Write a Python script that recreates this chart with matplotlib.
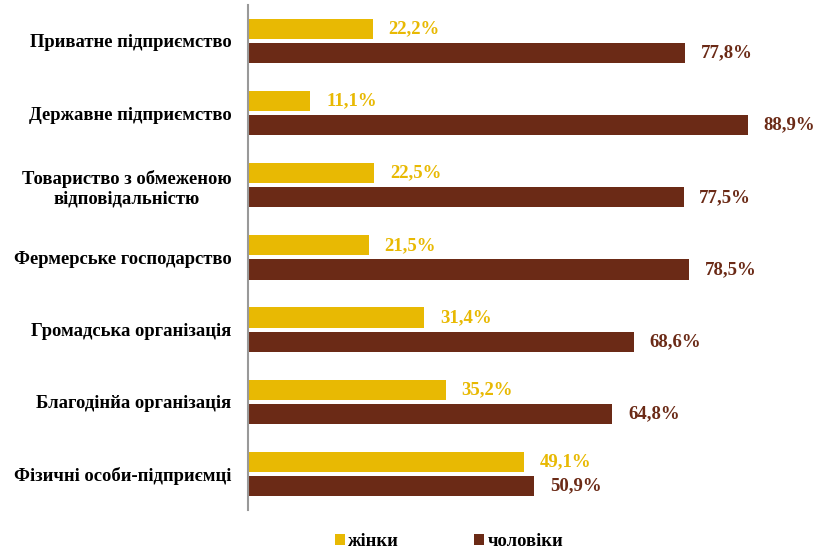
import matplotlib.pyplot as plt
import numpy as np

plt.rcParams['font.family'] = ['Liberation Serif', 'DejaVu Serif']
plt.rcParams['font.weight'] = 'bold'

categories = ["Приватне підприємство",
              "Державне підприємство",
              "Товариство з обмеженою\nвідповідальністю",
              "Фермерське господарство",
              "Громадська організація",
              "Благодінйа організація",
              "Фізичні особи-підприємці"]
women = [22.2, 11.1, 22.5, 21.5, 31.4, 35.2, 49.1]
men = [77.8, 88.9, 77.5, 78.5, 68.6, 64.8, 50.9]

gold = "#E8B903"
brown = "#6B2A16"

fig = plt.figure(figsize=(8.24, 5.51), dpi=100)
ax = fig.add_axes([0.301, 0.0744, 0.682, 0.917])

y = np.arange(len(categories))
h = 0.28
off = 0.168

ax.barh(y - off, women, height=h, color=gold, label="жінки")
ax.barh(y + off, men, height=h, color=brown, label="чоловіки")

for yi, v in zip(y, women):
    ax.text(v + 2.8, yi - off, f"{v:.1f}%".replace(".", ","),
            va="center", ha="left", color=gold, fontsize=13.5, fontweight="bold")
for yi, v in zip(y, men):
    ax.text(v + 2.8, yi + off, f"{v:.1f}%".replace(".", ","),
            va="center", ha="left", color=brown, fontsize=13.5, fontweight="bold")

ax.set_xlim(0, 100)
ax.set_ylim(len(categories) - 0.5, -0.5)
ax.set_yticks(y)
ax.set_yticklabels(categories, fontsize=13.4, fontweight="bold", multialignment="center")
ax.tick_params(axis="y", length=0, pad=12)
ax.set_xticks([])

for sp in ["top", "right", "bottom"]:
    ax.spines[sp].set_visible(False)
ax.spines["left"].set_color("#999999")
ax.spines["left"].set_linewidth(1.5)

fig.legend(loc="center", bbox_to_anchor=(0.545, 0.017), ncol=2, frameon=False,
           fontsize=13.3, handlelength=0.55, handleheight=0.55, handletextpad=0.2,
           columnspacing=4.05)

fig.savefig("out.png", dpi=100)
